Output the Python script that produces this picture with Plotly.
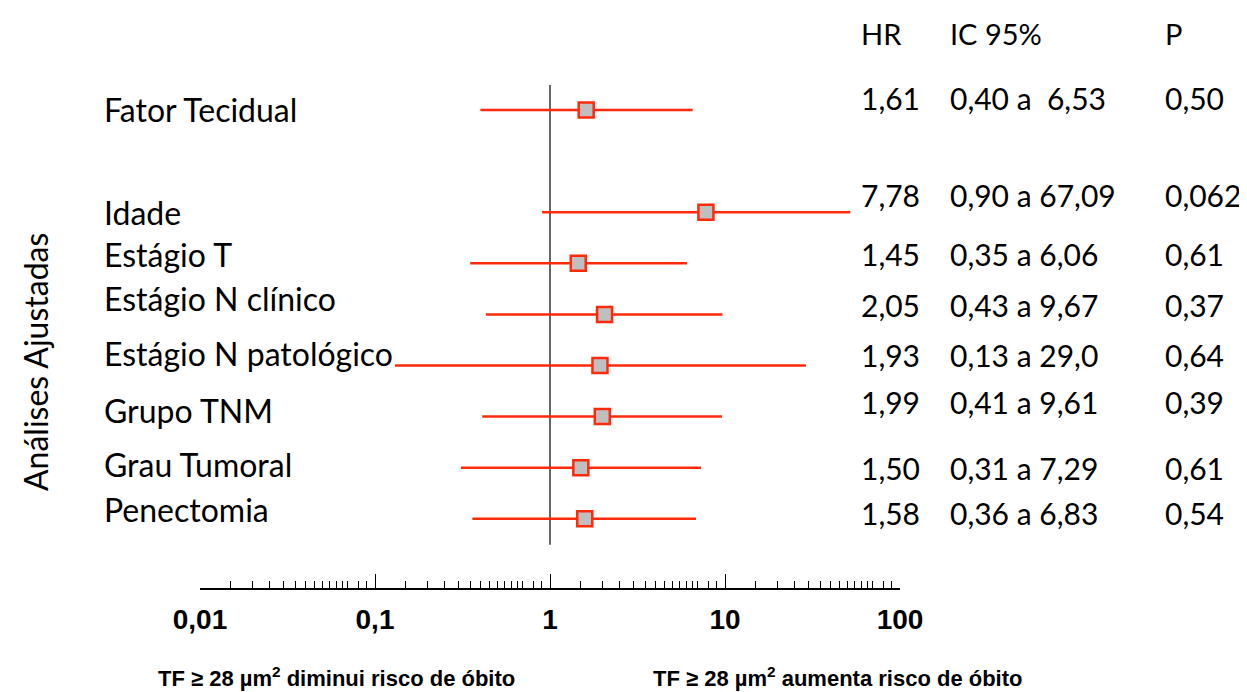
import plotly.graph_objects as go

# ---------------- data ----------------
variables = ["Fator Tecidual", "Idade", "Estágio T", "Estágio N clínico",
             "Estágio N patológico", "Grupo TNM", "Grau Tumoral", "Penectomia"]
row_index = [0, 2, 3, 4, 5, 6, 7, 8]          # row order (row 1 is an empty spacer)
hr = [1.61, 7.78, 1.45, 2.05, 1.93, 1.99, 1.50, 1.58]
ci_low = [0.40, 0.90, 0.35, 0.43, 0.13, 0.41, 0.31, 0.36]
ci_high_plotted = [6.53, 52.0, 6.06, 9.67, 29.0, 9.61, 7.29, 6.83]

hr_text = ["1,61", "7,78", "1,45", "2,05", "1,93", "1,99", "1,50", "1,58"]
ic_text = ["0,40 a  6,53", "0,90 a 67,09", "0,35 a 6,06", "0,43 a 9,67",
           "0,13 a 29,0", "0,41 a 9,61", "0,31 a 7,29", "0,36 a 6,83"]
p_text = ["0,50", "0,062", "0,61", "0,37", "0,64", "0,39", "0,61", "0,54"]

headers = ["HR", "IC 95%", "P"]
tick_values = [0.01, 0.1, 1, 10, 100]
tick_labels = ["0,01", "0,1", "1", "10", "100"]
minor_steps = [1.5, 2, 2.5, 3, 3.5, 4, 4.5, 5, 5.5, 6, 6.5, 7, 8, 9]

# ---------------- styling / layout offsets ----------------
RED = "#FF2A0A"
LABEL_FONT = "Lato, 'Open Sans', sans-serif"
BOLD_FONT = "'Liberation Sans', Arial, sans-serif"
label_dy = [0, 0, -9, -16, -12, -6, -3, -9]      # pixel nudges of row labels
table_dy = [-12, -17, -9, -9, -11, -15, 0, -6]   # pixel nudges of table text
col_shift = [-41, 48, 263]                       # table columns, px from plot right edge

ys = [-r for r in row_index]

# CI lines
lx, ly = [], []
for lo, hi, y in zip(ci_low, ci_high_plotted, ys):
    lx += [lo, hi, None]
    ly += [y, y, None]

fig = go.Figure()
fig.add_trace(go.Scatter(x=lx, y=ly, mode="lines",
                         line=dict(color=RED, width=2.5), hoverinfo="skip",
                         showlegend=False))
fig.add_trace(go.Scatter(x=hr, y=ys, mode="markers",
                         marker=dict(symbol="square", size=15, color="#BFBFBF",
                                     line=dict(color=RED, width=2.5)),
                         showlegend=False))

# reference line at HR = 1
fig.add_shape(type="line", xref="x", yref="y", x0=1, x1=1, y0=0.49, y1=-8.51,
              line=dict(color="#333333", width=1.5), layer="below")

ann = []
for i, (name, y) in enumerate(zip(variables, ys)):
    ann.append(dict(xref="paper", yref="y", x=0, y=y, xshift=-98, yshift=-label_dy[i],
                    xanchor="left", yanchor="middle", showarrow=False, text=name,
                    font=dict(family=LABEL_FONT, size=32, color="#000")))
    for txt, xs in zip([hr_text[i], ic_text[i], p_text[i]], col_shift):
        ann.append(dict(xref="paper", yref="y", x=1, y=y, xshift=xs, yshift=-table_dy[i],
                        xanchor="left", yanchor="middle", showarrow=False,
                        text=txt.replace("  ", "&nbsp; "),
                        font=dict(family=LABEL_FONT, size=30, color="#000")))
for h, xs in zip(headers, col_shift):
    ann.append(dict(xref="paper", yref="paper", x=1, y=1.051, xshift=xs,
                    xanchor="left", yanchor="middle", showarrow=False, text=h,
                    font=dict(family=LABEL_FONT, size=29, color="#000")))

ann.append(dict(xref="paper", yref="paper", x=0, y=0.428, xshift=-165,
                xanchor="center", yanchor="middle", showarrow=False, textangle=-90,
                text="Análises Ajustadas",
                font=dict(family=LABEL_FONT, size=32, color="#000")))

for txt, xc in [("<b>TF ≥ 28 µm<sup>2</sup> diminui risco de óbito</b>", 0.195),
                ("<b>TF ≥ 28 µm<sup>2</sup> aumenta risco de óbito</b>", 0.912)]:
    ann.append(dict(xref="paper", yref="paper", x=xc, y=-0.168, xanchor="center",
                    yanchor="middle", showarrow=False, text=txt,
                    font=dict(family=BOLD_FONT, size=22, color="#000")))

minor_vals = [d * m for d in [0.01, 0.1, 1, 10] for m in minor_steps]

fig.update_layout(
    width=1239, height=684,
    margin=dict(l=192, r=347, t=52, b=104),
    plot_bgcolor="white", paper_bgcolor="white",
    annotations=ann,
    xaxis=dict(type="log", range=[-2, 2], showgrid=False, zeroline=False,
               showline=True, linecolor="#000", linewidth=1.5,
               ticks="inside", ticklen=14, tickwidth=1.3, tickcolor="#000",
               tickvals=tick_values, ticktext=tick_labels,
               tickfont=dict(family=BOLD_FONT, size=28, color="#000", weight="bold"),
               ticklabelstandoff=6,
               minor=dict(tickvals=minor_vals, ticks="inside", ticklen=7,
                          tickwidth=1.2, tickcolor="#000", showgrid=False)),
    yaxis=dict(range=[-9.354, 0.978], showgrid=False, zeroline=False,
               showticklabels=False, ticks="", showline=False),
)

fig.write_html("out.html")
